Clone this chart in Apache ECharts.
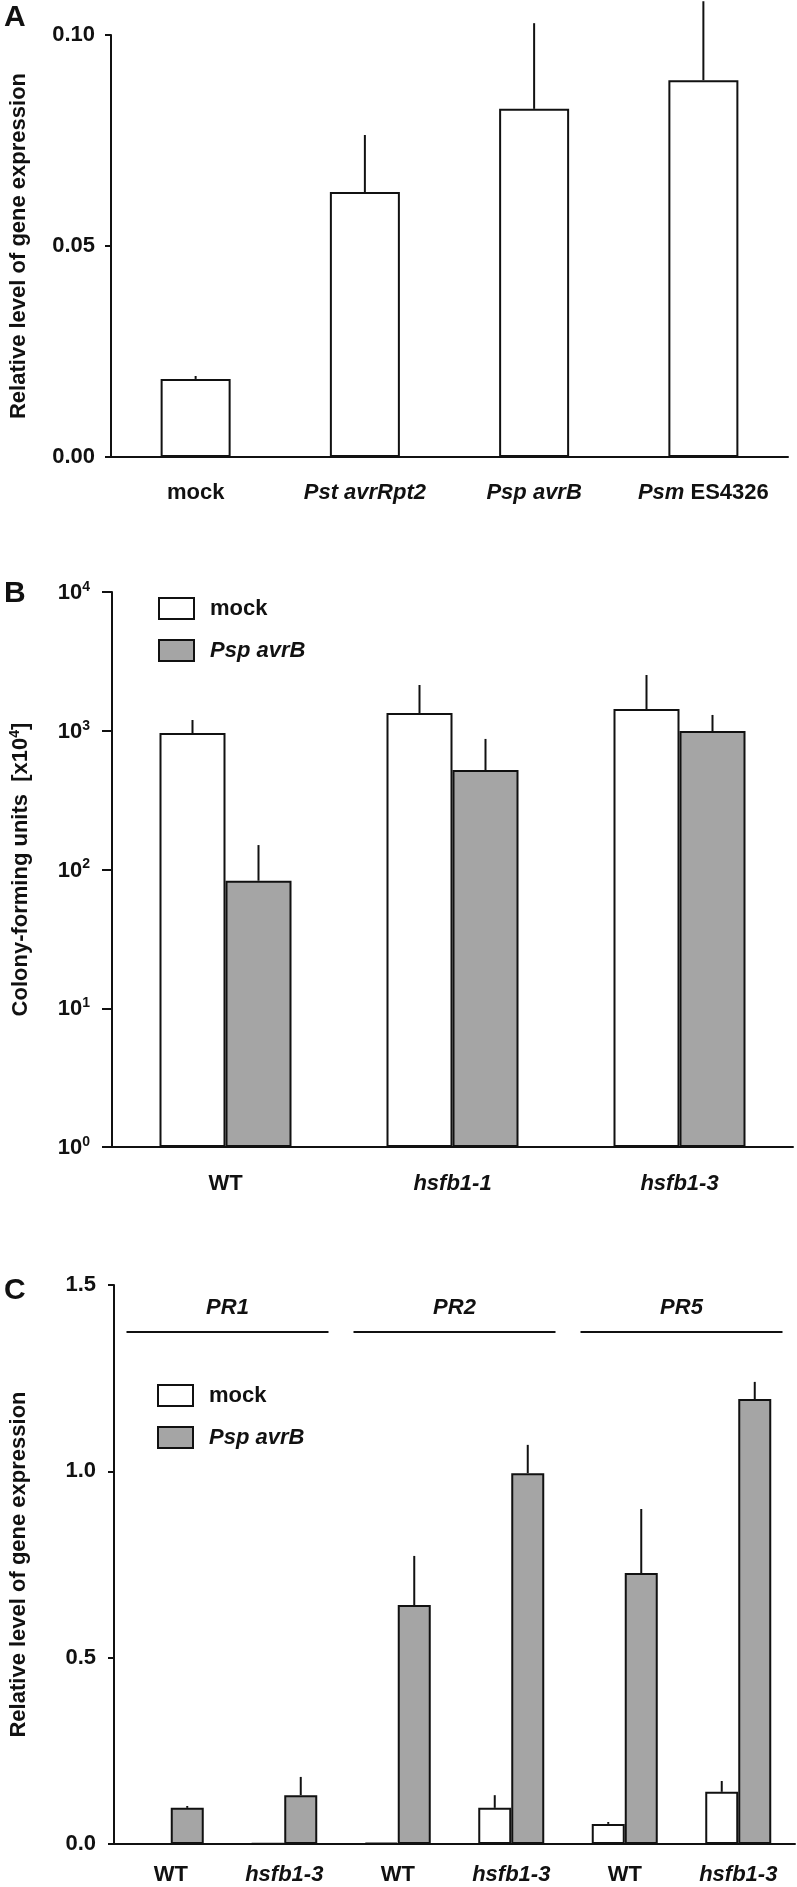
<!DOCTYPE html>
<html>
<head>
<meta charset="utf-8">
<script src="https://cdn.jsdelivr.net/npm/echarts@6/dist/echarts.min.js"></script>
<style>
html,body{margin:0;padding:0;background:#fff;}
#c{width:797px;height:1887px;}
</style>
</head>
<body>
<div id="c"></div>
<script>
// ---------- DATA ----------
// Panel A
const catsA = ['mock', 'Pst avrRpt2', 'Psp avrB', 'Psm ES4326'];
const valsA = [0.0185, 0.0628, 0.0825, 0.0893];
const errTopA = [0.0192, 0.0763, 0.1028, 0.108];
const ticksA = [0, 0.05, 0.10];

// Panel B (log scale)
const catsB = ['WT', 'hsfb1-1', 'hsfb1-3'];
const mockB = [963, 1343, 1435];
const mockErrTopB = [1195, 2137, 2523];
const pspB = [83, 521, 996];
const pspErrTopB = [150, 873, 1300];

// Panel C
const genesC = ['PR1', 'PR1', 'PR2', 'PR2', 'PR5', 'PR5'];
const genotypesC = ['WT', 'hsfb1-3', 'WT', 'hsfb1-3', 'WT', 'hsfb1-3'];
const mockC = [0, 0.002, 0.003, 0.097, 0.054, 0.140];
const mockErrTopC = [0, 0.002, 0.003, 0.131, 0.059, 0.169];
const pspC = [0.097, 0.131, 0.641, 0.995, 0.727, 1.194];
const pspErrTopC = [0.102, 0.180, 0.773, 1.071, 0.899, 1.240];
const headersC = ['PR1', 'PR2', 'PR5'];

const seriesNames = ['mock', 'Psp avrB'];

// ---------- STYLE ----------
const FF = '"Liberation Sans", Arial, Helvetica, sans-serif';
const INK = '#111';
const GREY = '#a5a5a5';
const normalWords = ['mock', 'WT', 'ES4326'];

const rich = {
  n: {fontFamily: FF, fontWeight: 'bold', fontSize: 22, color: INK},
  i: {fontFamily: FF, fontWeight: 'bold', fontStyle: 'italic', fontSize: 22, color: INK}
};
function richLabel(v) {
  const words = String(v).split(' ');
  return words.map((w, k) => '{' + (normalWords.indexOf(w) >= 0 ? 'n' : 'i') + '|' + w + (k < words.length - 1 ? ' ' : '') + '}').join('');
}

function errSeries(name, xi, data, offset) {
  return {
    type: 'custom', name: name + ' err', xAxisIndex: xi, yAxisIndex: xi, clip: false, z: 1,
    silent: true,
    renderItem: function (params, api) {
      const x = api.value(0);
      const p0 = api.coord([x, api.value(1)]);
      const p1 = api.coord([x, api.value(2)]);
      return {type: 'line', shape: {x1: p0[0] + offset, y1: p0[1], x2: p0[0] + offset, y2: p1[1]},
        style: {stroke: INK, lineWidth: 2}};
    },
    data: data
  };
}
function zip3(vals, tops) { return vals.map((v, i) => [i, v, tops[i]]); }

const axisLineStyle = {lineStyle: {color: INK, width: 2}};
const tickLabel = {fontFamily: FF, fontWeight: 'bold', fontSize: 22, color: INK};
const titleStyle = {fontFamily: FF, fontWeight: 'bold', fontSize: 22, color: INK};

const whiteStyle = {color: '#fff', borderColor: INK, borderWidth: 2};
const greyStyle = {color: GREY, borderColor: INK, borderWidth: 2};

const chart = echarts.init(document.getElementById('c'), null, {renderer: 'canvas'});

function legendAt(left, top) {
  return {
    left: left, top: top, orient: 'vertical', itemWidth: 35, itemHeight: 21, itemGap: 19,
    selectedMode: false, icon: 'rect',
    data: [
      {name: seriesNames[0], itemStyle: whiteStyle},
      {name: seriesNames[1], itemStyle: greyStyle}
    ],
    formatter: function (n) { return richLabel(n); },
    textStyle: {fontFamily: FF, fontWeight: 'bold', fontSize: 22, color: INK, lineHeight: 21,
      padding: [0, 0, 0, 11], rich: rich}
  };
}

const option = {
  animation: false,
  backgroundColor: '#fff',
  grid: [
    {left: 104, top: 35, width: 684, height: 422},
    {left: 105, top: 592, width: 688, height: 555},
    {left: 106, top: 1285, width: 689, height: 559}
  ],
  legend: [legendAt(153, 592), legendAt(152, 1379)],
  xAxis: [
    {type: 'category', gridIndex: 0, data: catsA, axisLine: axisLineStyle, axisTick: {show: false},
      axisLabel: {margin: 25, interval: 0, formatter: richLabel, rich: rich}},
    {type: 'category', gridIndex: 1, data: catsB, axisLine: axisLineStyle, axisTick: {show: false},
      axisLabel: {margin: 26, interval: 0, formatter: richLabel, rich: rich}},
    {type: 'category', gridIndex: 2, data: genesC.map((g, i) => g + '_' + genotypesC[i]),
      axisLine: axisLineStyle, axisTick: {show: false},
      axisLabel: {margin: 20, interval: 0, formatter: v => richLabel(v.split('_')[1]), rich: rich}}
  ],
  yAxis: [
    {type: 'value', gridIndex: 0, min: ticksA[0], max: ticksA[ticksA.length - 1], interval: 0.05,
      axisLine: {show: true, lineStyle: {color: INK, width: 2}},
      axisTick: {show: true, length: 6, lineStyle: {color: INK, width: 2}},
      splitLine: {show: false},
      axisLabel: Object.assign({margin: 16, formatter: v => v.toFixed(2)}, tickLabel),
      name: 'Relative level of gene expression', nameLocation: 'middle', nameGap: 81,
      nameTextStyle: titleStyle},
    {type: 'log', logBase: 10, gridIndex: 1, min: 1, max: 10000,
      axisLine: {show: true, lineStyle: {color: INK, width: 2}},
      axisTick: {show: true, length: 10, lineStyle: {color: INK, width: 2}},
      splitLine: {show: false}, minorTick: {show: false},
      axisLabel: {margin: 22, formatter: v => '{b|10}{s|' + Math.round(Math.log10(v)) + '}',
        rich: {
          b: {fontFamily: FF, fontWeight: 'bold', fontSize: 22, color: INK, lineHeight: 24, verticalAlign: 'bottom'},
          s: {fontFamily: FF, fontWeight: 'bold', fontSize: 14, color: INK, lineHeight: 14, padding: [0, 0, 10, 0], verticalAlign: 'bottom'}
        }},
      name: '{t|Colony-forming units  [x10}{s|4}{t|]}', nameLocation: 'middle', nameGap: 80,
      nameTextStyle: Object.assign({}, titleStyle, {rich: {
        t: {fontFamily: FF, fontWeight: 'bold', fontSize: 22, color: INK, lineHeight: 24, verticalAlign: 'bottom'},
        s: {fontFamily: FF, fontWeight: 'bold', fontSize: 14, color: INK, lineHeight: 14, padding: [0, 0, 10, 0], verticalAlign: 'bottom'}
      }})},
    {type: 'value', gridIndex: 2, min: 0, max: 1.5, interval: 0.5,
      axisLine: {show: true, lineStyle: {color: INK, width: 2}},
      axisTick: {show: true, length: 6, lineStyle: {color: INK, width: 2}},
      splitLine: {show: false},
      axisLabel: Object.assign({margin: 18, formatter: v => v.toFixed(1)}, tickLabel),
      name: 'Relative level of gene expression', nameLocation: 'middle', nameGap: 84,
      nameTextStyle: titleStyle}
  ],
  series: [
    errSeries('A', 0, zip3(valsA, errTopA), 0),
    {type: 'bar', name: 'A', xAxisIndex: 0, yAxisIndex: 0, data: valsA, barWidth: 70, itemStyle: whiteStyle, z: 2},

    errSeries('mockB', 1, zip3(mockB, mockErrTopB), -33),
    errSeries('pspB', 1, zip3(pspB, pspErrTopB), 33),
    {type: 'bar', name: seriesNames[0], xAxisIndex: 1, yAxisIndex: 1, data: mockB, barWidth: 66, barGap: '0%', itemStyle: whiteStyle, z: 2},
    {type: 'bar', name: seriesNames[1], xAxisIndex: 1, yAxisIndex: 1, data: pspB, barWidth: 66, barGap: '0%', itemStyle: greyStyle, z: 2},

    errSeries('mockC', 2, zip3(mockC, mockErrTopC), -16.5),
    errSeries('pspC', 2, zip3(pspC, pspErrTopC), 16.5),
    {type: 'bar', name: seriesNames[0], xAxisIndex: 2, yAxisIndex: 2, data: mockC, barWidth: 33, barGap: '0%', itemStyle: whiteStyle, z: 2},
    {type: 'bar', name: seriesNames[1], xAxisIndex: 2, yAxisIndex: 2, data: pspC, barWidth: 33, barGap: '0%', itemStyle: greyStyle, z: 2}
  ]
};
chart.setOption(option);

// Panel letters and gene header annotations (positions derived from axes)
const graphics = [
  {type: 'text', left: 4, top: 3, style: {text: 'A', font: 'bold 30px ' + FF, fill: INK}},
  {type: 'text', left: 4, top: 579, style: {text: 'B', font: 'bold 30px ' + FF, fill: INK}},
  {type: 'text', left: 4, top: 1276, style: {text: 'C', font: 'bold 30px ' + FF, fill: INK}}
];
const lineY = chart.convertToPixel({yAxisIndex: 2}, 1.374);
const textY = chart.convertToPixel({yAxisIndex: 2}, 1.438);
headersC.forEach(function (g) {
  const idx = genesC.map((x, i) => x === g ? i : -1).filter(i => i >= 0);
  const xs = idx.map(i => chart.convertToPixel({xAxisIndex: 2}, genesC[i] + '_' + genotypesC[i]));
  const mid = (xs[0] + xs[xs.length - 1]) / 2;
  graphics.push({type: 'line', shape: {x1: mid - 101, y1: lineY, x2: mid + 101, y2: lineY},
    style: {stroke: INK, lineWidth: 2}});
  graphics.push({type: 'text', x: mid, y: textY,
    style: {text: g, font: 'italic bold 22px ' + FF, fill: INK, textAlign: 'center', textVerticalAlign: 'middle'}});
});
chart.setOption({graphic: graphics});
</script>
</body>
</html>
